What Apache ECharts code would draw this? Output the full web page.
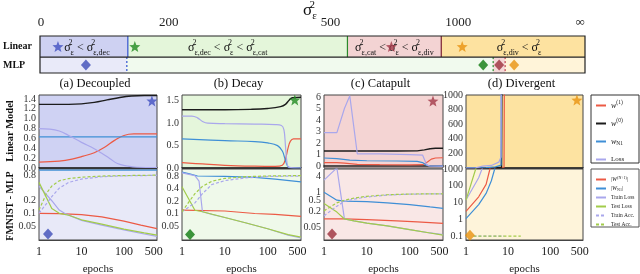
<!DOCTYPE html>
<html><head><meta charset="utf-8">
<script src="https://cdn.jsdelivr.net/npm/echarts@6/dist/echarts.min.js"></script>
<style>html,body{margin:0;padding:0;background:#fff}#c{width:640px;height:274px}</style>
</head><body><div id="c"></div>
<script>
// ---------------- DATA ----------------
// top bar: sigma^2 scale (bar position units)
const sigmaTickPos = [1, 129, 291, 419, 541];
const sigmaTickLabels = ['0', '200', '500', '1000', '∞'];
const barRows = ['Linear', 'MLP'];
const rowSpans = [[0, 0.57], [0.57, 1]];
const rowCenters = [0.285, 0.785];
const linearRegions = [[0, 88], [88, 308], [308, 402], [402, 546]];
const mlpRegions = [[0, 87], [87, 454], [454, 466], [466, 546]];
const linearDividers = [88, 308, 402];
const mlpDividers = [87, 454, 466];
const regionLabelPos = [47, 188, 355, 480];
const barStars = [18, 95, 352, 423];
const barDiamonds = [46, 444, 460, 475];

// epochs axis ticks
const epochTicks = [1, 10, 100, 500];

// panel y ticks
const aTopTicks = [0, 0.2, 0.4, 0.6, 0.8, 1.0, 1.2, 1.4];
const bTopTicks = [0, 0.5, 1.0, 1.5];
const cTopTicks = [0, 1, 2, 3, 4, 5, 6];
const dTopTicks = [200, 400, 600, 800, 1000];
const aBotTicks = [0.05, 0.1, 0.2, 0.5, 0.8];
const bBotTicks = [0.05, 0.1, 0.2, 0.4, 0.8];
const cBotTicks = [0.05, 0.2, 0.5, 1, 4];
const dBotTicks = [0.1, 1, 10, 100, 1000];

// (a) Decoupled
const aTopW1 = [[1,0.12],[3,0.14],[6,0.18],[11,0.24],[20,0.31],[35,0.42],[60,0.56],[100,0.66],[170,0.69],[600,0.69]];
const aTopW0 = [[1,1.29],[5,1.29],[10,1.30],[20,1.33],[40,1.38],[80,1.43],[150,1.46],[300,1.47],[600,1.47]];
const aTopWN1 = [[1,0.63],[600,0.63]];
const aTopLoss = [[1,0.80],[1.8,0.79],[3,0.75],[5,0.66],[10,0.52],[20,0.39],[30,0.30],[47,0.19],[70,0.09],[120,0.04],[200,0.015],[600,0.01]];
const aBotWout = [[1,0.1],[3,0.098],[10,0.093],[30,0.082],[100,0.065],[250,0.052],[600,0.043]];
const aBotWN1 = [[1,1.08],[600,1.08]];
const aBotTrainLoss = [[1,0.45],[2,0.2],[3,0.12],[4,0.1],[10,0.068],[30,0.052],[100,0.04],[300,0.032],[600,0.028]];
const aBotTestLoss = [[1,0.55],[2,0.13],[3,0.1],[5,0.09],[10,0.07],[30,0.055],[100,0.042],[300,0.034],[600,0.03]];
const aBotTrainAcc = [[1,0.1],[2,0.25],[3,0.4],[5,0.55],[10,0.66],[30,0.75],[100,0.79],[600,0.81]];
const aBotTestAcc = [[1,0.12],[1.5,0.3],[2,0.45],[3,0.6],[5,0.68],[10,0.73],[30,0.78],[100,0.8],[600,0.82]];

// (b) Decay
const bTopW1 = [[1,0.12],[3,0.09],[10,0.06],[50,0.04],[150,0.035],[220,0.06],[260,0.2],[300,0.45],[340,0.6],[400,0.65],[600,0.65]];
const bTopW0 = [[1,1.3],[10,1.3],[40,1.31],[100,1.33],[200,1.37],[260,1.42],[320,1.52],[380,1.57],[600,1.58]];
const bTopWN1 = [[1,0.65],[10,0.61],[50,0.59],[100,0.56],[170,0.5],[220,0.38],[250,0.22],[280,0.08],[320,0.01],[600,0]];
const bTopLoss = [[1,1.16],[1.7,1.16],[2.3,1.12],[3,1.04],[4,1.0],[10,0.99],[50,0.98],[150,0.97],[210,0.95],[240,0.85],[260,0.5],[280,0.15],[310,0.02],[600,0]];
const bBotWout = [[1,0.12],[10,0.115],[50,0.1],[150,0.095],[600,0.085]];
const bBotWN1 = [[1,1.0],[1.5,0.9],[2.3,0.8],[10,0.78],[50,0.74],[150,0.67],[600,0.58]];
const bBotTrainLoss = [[1,0.95],[2,0.82],[2.5,0.6],[3,0.11],[5,0.095],[10,0.08],[30,0.06],[100,0.043],[300,0.03],[600,0.026]];
const bBotTestLoss = [[1,0.44],[2,0.12],[3,0.11],[10,0.08],[30,0.06],[100,0.043],[300,0.031],[600,0.027]];
const bBotTrainAcc = [[1,0.11],[2,0.18],[3,0.3],[5,0.5],[10,0.62],[30,0.72],[100,0.78],[600,0.8]];
const bBotTestAcc = [[1,0.11],[1.5,0.2],[2,0.3],[3,0.45],[5,0.6],[10,0.7],[30,0.77],[100,0.8],[600,0.82]];

// (c) Catapult
const cTopW1 = [[1,0.3],[2,0.3],[3,0.25],[6,0.15],[20,0.12],[100,0.1],[200,0.12],[260,0.35],[320,0.6],[400,0.7],[600,0.72]];
const cTopW0 = [[1,1.3],[50,1.3],[150,1.32],[220,1.4],[300,1.5],[400,1.55],[600,1.55]];
const cTopWN1 = [[1,0.7],[2,0.65],[4,0.52],[10,0.46],[50,0.44],[150,0.4],[200,0.3],[240,0.1],[280,0.02],[600,0]];
const cTopLoss = [[1,2.9],[2,2.9],[3,5],[4,6.1],[6,1.05],[20,1.05],[100,1.0],[200,0.95],[250,0.1],[290,0.02],[600,0]];
const cBotWout = [[1,0.1],[3,0.1],[10,0.095],[50,0.085],[150,0.078],[600,0.068]];
const cBotWN1 = [[1,1.0],[2,0.5],[3,0.46],[10,0.44],[30,0.4],[100,0.34],[300,0.28],[600,0.25]];
const cBotTrainLoss = [[1,2.8],[2,8],[3,0.1],[5,0.085],[10,0.07],[30,0.055],[100,0.04],[300,0.03],[600,0.026]];
const cBotTestLoss = [[1,0.38],[2,0.18],[3,0.1],[5,0.085],[10,0.07],[30,0.055],[100,0.04],[300,0.03],[600,0.025]];
const cBotTrainAcc = [[1,0.13],[2,0.3],[3,0.45],[5,0.55],[10,0.66],[30,0.78],[100,0.84],[600,0.87]];
const cBotTestAcc = [[1,0.2],[2,0.4],[3,0.5],[5,0.6],[10,0.7],[30,0.8],[100,0.85],[600,0.87]];

// (d) Divergent
const dTopW1 = [[1,0.3],[5,2],[8,10],[8.4,3000]];
const dTopW0 = [[1,1.3],[5,3],[7,10],[7.3,3000]];
const dTopWN1 = [[1,1],[3,5],[5,15],[6.8,40],[7,3000]];
const dTopLoss = [[1,0],[1.7,2],[2.5,25],[4,35],[6,80],[6.8,150],[7,3000]];
const dBotWout = [[1,3],[2,22],[3,120],[3.7,1000],[4,5000]];
const dBotWN1 = [[1,1.1],[2,7.5],[3,35],[4,200],[4.8,1000],[5,3000]];
const dBotTrainLoss = [[1,14],[2,300],[2.4,1000],[3,8000]];
const dBotTestLoss = [[1,14],[1.7,1000],[2,8000]];
const dBotTrainAcc = [[1.5,0.1],[2,0.1],[3,0.1],[4,0.1],[5,0.1],[6,0.1],[8,0.1]];
const dBotTestAcc = [[1.5,0.1],[2,0.1],[3,0.1],[4,0.1],[5,0.1],[6,0.1],[8,0.1],[10,0.1],[12,0.1],[15,0.1],[20,0.1]];

// marker positions inside panels
const panelStars = [[455,1.36],[430,1.52],[350,5.65],[430,930]];
const panelDiamonds = [[1.63,0.032],[1.54,0.031],[1.54,0.0274],[1.24,0.11]];

const panelTitles = ['(a) Decoupled', '(b) Decay', '(c) Catapult', '(d) Divergent'];
const topNames = ['w1', 'w0', 'wN1', 'Loss'];
const botNames = ['W(N+1)', 'WN1', 'Train Loss', 'Test Loss', 'Train Acc.', 'Test Acc.'];

// ---------------- STYLE / LAYOUT ----------------
const SERIF = '"Liberation Serif","DejaVu Serif",serif';
const RED = '#ec5a45', BLACK = '#1c1c1c', BLUE = '#3f8fd6', LAV = '#a9a7ec', GREEN = '#a2cc4a';
const regionFills = ['#ced1f2', '#e4f6da', '#f3d3d3', '#fde2a0', '#e9eaf9', '#f1faee', '#f5d8d8', '#fff4d9'];
const dividerStyles = [
  {stroke:'#3050d0', lineWidth:1.2}, {stroke:'#2a8a2a', lineWidth:1.2}, {stroke:'#7a2030', lineWidth:1.2},
  {stroke:'#3050d0', lineWidth:1.2, lineDash:[2,2]}, {stroke:'#2a8a2a', lineWidth:1.2, lineDash:[2,2]}, {stroke:'#c04050', lineWidth:1.2, lineDash:[2,2]}
];
const markColors = ['#4150c0', '#1f8a1f', '#a33848', '#e8920f'];
const diamondColors = ['#3e4db8', '#0f7a0f', '#9c2f3c', '#e8920f'];
const topFills = ['#cfd2f3', '#e5f6db', '#f4d4d3', '#fde3a1'];
const botFills = ['#e8e9f8', '#eff9ea', '#f9e7e6', '#fef4da'];
const panelLayout = [{left:39,width:118},{left:182,width:119},{left:324,width:119},{left:466,width:117}];
const TOP_Y = 95, TOP_H = 73, BOT_Y = 169, BOT_H = 71;
const STAR = 'path://M12,1 L14.9,8.6 L23,9 L16.7,14.1 L18.9,22 L12,17.5 L5.1,22 L7.3,14.1 L1,9 L9.1,8.6 Z';

const topRanges = [[0,1.48],[0,1.63],[-0.17,6.17],[0,1000]];
const botRanges = [[0.023,1.15],[0.023,1.18],[0.0164,7.3],[0.058,1000]];
const topTicks = [aTopTicks, bTopTicks, cTopTicks, dTopTicks];
const botTicks = [aBotTicks, bBotTicks, cBotTicks, dBotTicks];
const topFmt = [v=>v.toFixed(1), v=>v.toFixed(1), v=>String(v), v=>String(v)];
const topSmooth = [0.4, 0.4, 0, 0];
const topData = [
  [aTopW1, aTopW0, aTopWN1, aTopLoss],
  [bTopW1, bTopW0, bTopWN1, bTopLoss],
  [cTopW1, cTopW0, cTopWN1, cTopLoss],
  [dTopW1, dTopW0, dTopWN1, dTopLoss]
];
const botData = [
  [aBotWout, aBotWN1, aBotTrainLoss, aBotTestLoss, aBotTrainAcc, aBotTestAcc],
  [bBotWout, bBotWN1, bBotTrainLoss, bBotTestLoss, bBotTrainAcc, bBotTestAcc],
  [cBotWout, cBotWN1, cBotTrainLoss, cBotTestLoss, cBotTrainAcc, cBotTestAcc],
  [dBotWout, dBotWN1, dBotTrainLoss, dBotTestLoss, dBotTrainAcc, dBotTestAcc]
];
const topColors = [RED, BLACK, BLUE, LAV];
const botColors = [RED, BLUE, LAV, GREEN, LAV, GREEN];
const botDashed = [false, false, false, false, true, true];

function sig(sub){ return '{s|σ}{p|2}{b|' + sub + '}'; }
const LT = '{s| < }';
const regionLabelTexts = [
  sig('ε') + LT + sig('ε,dec'),
  sig('ε,dec') + LT + sig('ε') + LT + sig('ε,cat'),
  sig('ε,cat') + LT + sig('ε') + LT + sig('ε,div'),
  sig('ε,div') + LT + sig('ε')
];
const barRich = {
  s: {fontFamily:SERIF, fontSize:12, fill:'#111', color:'#111', lineHeight:18},
  p: {fontFamily:SERIF, fontSize:8, fill:'#111', color:'#111', width:0, lineHeight:9, verticalAlign:'top'},
  b: {fontFamily:SERIF, fontSize:8, fill:'#111', color:'#111', lineHeight:9, verticalAlign:'bottom'}
};

// ---------------- BUILD ----------------
const grids = [{left:39, top:36, width:546, height:37}];
const xAxes = [{gridIndex:0, type:'value', min:0, max:546, position:'top',
  axisLine:{show:false}, axisTick:{show:false}, splitLine:{show:false},
  axisLabel:{customValues:sigmaTickPos, formatter:v=>sigmaTickLabels[sigmaTickPos.indexOf(v)], fontFamily:SERIF, fontSize:13, color:'#222', margin:7,
    showMinLabel:true, showMaxLabel:true, hideOverlap:false}}];
const yAxes = [{gridIndex:0, type:'value', min:0, max:1, inverse:true,
  axisLine:{show:false}, axisTick:{show:false}, splitLine:{show:false},
  axisLabel:{customValues:rowCenters, formatter:v=>{let bi=0;rowCenters.forEach((c,i)=>{if(Math.abs(c-v)<Math.abs(rowCenters[bi]-v))bi=i;});return barRows[bi];},
    align:'left', margin:37, fontFamily:SERIF, fontWeight:'bold', fontSize:10, color:'#111'}}];
const series = [];

// bar regions
const regionItems = [];
linearRegions.forEach((r,i)=>regionItems.push([r[0], r[1], rowSpans[0][0], rowSpans[0][1], i]));
mlpRegions.forEach((r,i)=>regionItems.push([r[0], r[1], rowSpans[1][0], rowSpans[1][1], 4+i]));
series.push({type:'custom', xAxisIndex:0, yAxisIndex:0, data:regionItems, z:1, silent:true,
  renderItem(params, api){
    const p0 = api.coord([api.value(0), api.value(2)]);
    const p1 = api.coord([api.value(1), api.value(3)]);
    return {type:'rect', shape:{x:p0[0], y:p0[1], width:p1[0]-p0[0], height:p1[1]-p0[1]}, style:{fill:regionFills[api.value(4)]}};
  }});
// dividers
const dividerItems = [];
linearDividers.forEach((x,i)=>dividerItems.push([x, rowSpans[0][0], rowSpans[0][1], i]));
mlpDividers.forEach((x,i)=>dividerItems.push([x, rowSpans[1][0], rowSpans[1][1], 3+i]));
series.push({type:'custom', xAxisIndex:0, yAxisIndex:0, data:dividerItems, z:2, silent:true,
  renderItem(params, api){
    const p0 = api.coord([api.value(0), api.value(1)]);
    const p1 = api.coord([api.value(0), api.value(2)]);
    return {type:'line', shape:{x1:p0[0], y1:p0[1], x2:p1[0], y2:p1[1]}, style:dividerStyles[api.value(3)]};
  }});
// outline + row separator
series.push({type:'custom', xAxisIndex:0, yAxisIndex:0, data:[[0, 546, 0, 1, rowSpans[0][1]]], z:3, silent:true,
  renderItem(params, api){
    const p0 = api.coord([api.value(0), api.value(2)]);
    const p1 = api.coord([api.value(1), api.value(3)]);
    const pm = api.coord([api.value(0), api.value(4)]);
    return {type:'group', children:[
      {type:'rect', shape:{x:p0[0], y:p0[1], width:p1[0]-p0[0], height:p1[1]-p0[1]}, style:{fill:null, stroke:'#222', lineWidth:1.2}},
      {type:'line', shape:{x1:p0[0], y1:pm[1], x2:p1[0], y2:pm[1]}, style:{stroke:'#222', lineWidth:1.2}}
    ]};
  }});
// region labels
series.push({type:'custom', xAxisIndex:0, yAxisIndex:0, z:4, silent:true,
  data: regionLabelPos.map((x,i)=>[x, rowCenters[0], i]),
  renderItem(params, api){
    const p = api.coord([api.value(0), api.value(1)]);
    return {type:'text', x:p[0], y:p[1]+1, style:{text:regionLabelTexts[api.value(2)], rich:barRich,
      align:'center', verticalAlign:'middle', textAlign:'center', textVerticalAlign:'middle'}};
  }});
// bar stars and diamonds
series.push({type:'scatter', xAxisIndex:0, yAxisIndex:0, z:5, symbol:STAR, symbolSize:11, silent:true,
  data: barStars.map((x,i)=>({value:[x, rowCenters[0]], itemStyle:{color:markColors[i]}}))});
series.push({type:'scatter', xAxisIndex:0, yAxisIndex:0, z:5, symbol:'diamond', symbolSize:[10,11], silent:true,
  data: barDiamonds.map((x,i)=>({value:[x, rowCenters[1]], itemStyle:{color:diamondColors[i]}}))});

const graphic = [];
graphic.push({type:'text', x:310, y:11, style:{text:'{S|σ}{P|2}{B|ε}', align:'center', verticalAlign:'middle', textAlign:'center', textVerticalAlign:'middle',
  rich:{S:{fontFamily:SERIF, fontSize:17, fill:'#111', color:'#111', lineHeight:22}, P:{fontFamily:SERIF, fontSize:11, width:0, fill:'#111', color:'#111', lineHeight:11, verticalAlign:'top'}, B:{fontFamily:SERIF, fontSize:11, fill:'#111', color:'#111', lineHeight:11, verticalAlign:'bottom'}}}});

const labelCommon = {fontFamily:SERIF, fontSize:10, color:'#333', margin:3, showMinLabel:true, showMaxLabel:true, hideOverlap:false};

panelLayout.forEach((pl, c)=>{
  const gt = grids.length, gb = gt + 1;
  grids.push({show:true, left:pl.left, top:TOP_Y, width:pl.width, height:TOP_H, backgroundColor:topFills[c], borderColor:'#444', borderWidth:1});
  grids.push({show:true, left:pl.left, top:BOT_Y, width:pl.width, height:BOT_H, backgroundColor:botFills[c], borderColor:'#444', borderWidth:1});
  xAxes.push({gridIndex:gt, type:'log', min:1, max:600, axisLabel:{show:false}, axisTick:{show:false}, splitLine:{show:false},
    axisLine:{show:true, lineStyle:{color:'#222', width:1.6}}});
  xAxes.push({gridIndex:gb, type:'log', min:1, max:600, splitLine:{show:false}, axisTick:{show:false},
    axisLine:{show:true, lineStyle:{color:'#444'}},
    axisLabel:{customValues:epochTicks, formatter:v=>String(Math.round(v)), fontFamily:SERIF, fontSize:12, color:'#222', margin:6,
      showMinLabel:true, showMaxLabel:true, hideOverlap:false}});
  yAxes.push({gridIndex:gt, type:'value', min:topRanges[c][0], max:topRanges[c][1], splitLine:{show:false}, axisTick:{show:false}, axisLine:{show:false},
    axisLabel:Object.assign({customValues:topTicks[c], formatter:topFmt[c]}, labelCommon)});
  yAxes.push({gridIndex:gb, type:'log', min:botRanges[c][0], max:botRanges[c][1], splitLine:{show:false}, axisTick:{show:false}, axisLine:{show:false},
    axisLabel:Object.assign({customValues:botTicks[c], formatter:v=>String(v)}, labelCommon)});
  topData[c].forEach((d, k)=>{
    series.push({type:'line', name:topNames[k], xAxisIndex:gt, yAxisIndex:gt, data:d, showSymbol:false, symbol:'none',
      smooth:topSmooth[c], clip:true, z:10, color:topColors[k],
      lineStyle:{color:topColors[k], width:k===1?1.4:1.2}});
  });
  botData[c].forEach((d, k)=>{
    series.push({type:'line', name:botNames[k], xAxisIndex:gb, yAxisIndex:gb, data:d, showSymbol:false, symbol:'none',
      clip:true, z:10, color:botColors[k],
      lineStyle:{color:botColors[k], width:1.2, type:botDashed[k]?[3,2]:'solid'}});
  });
  series.push({type:'scatter', xAxisIndex:gt, yAxisIndex:gt, symbol:STAR, symbolSize:11, z:20, silent:true,
    data:[panelStars[c]], itemStyle:{color:markColors[c]}});
  series.push({type:'scatter', xAxisIndex:gb, yAxisIndex:gb, symbol:'diamond', symbolSize:[10,11], z:20, silent:true,
    data:[panelDiamonds[c]], itemStyle:{color:diamondColors[c]}});
  const cx = pl.left + pl.width/2;
  graphic.push({type:'text', x:cx - 3, y:84, style:{text:panelTitles[c], font:'12.5px ' + SERIF, fill:'#111', align:'center', verticalAlign:'middle', textAlign:'center', textVerticalAlign:'middle'}});
  graphic.push({type:'text', x:cx, y:269, style:{text:'epochs', font:'11px ' + SERIF, fill:'#222', align:'center', verticalAlign:'middle', textAlign:'center', textVerticalAlign:'middle'}});
});

graphic.push({type:'text', x:10, y:131, rotation:Math.PI/2, style:{text:'Linear Model', font:'bold 10.5px ' + SERIF, fill:'#111', align:'center', verticalAlign:'middle', textAlign:'center', textVerticalAlign:'middle'}});
graphic.push({type:'text', x:10, y:206, rotation:Math.PI/2, style:{text:'FMNIST - MLP', font:'bold 10px ' + SERIF, fill:'#111', align:'center', verticalAlign:'middle', textAlign:'center', textVerticalAlign:'middle'}});
graphic.push({type:'rect', shape:{x:591, y:95, width:48, height:68}, style:{fill:'#fff', stroke:'#333', lineWidth:1}, z:-1});
graphic.push({type:'rect', shape:{x:591, y:169, width:48, height:58}, style:{fill:'#fff', stroke:'#555', lineWidth:1}, z:-1});

const legendFmt1 = {'w1':'{i|w}{u|(1)}', 'w0':'{i|w}{u|(0)}', 'wN1':'{i|w}{d|N1}', 'Loss':'{r|Loss}'};
const legendFmt2 = {'W(N+1)':'{r||}{i|W}{u|(N+1)}{r||}', 'WN1':'{r||}{i|W}{d|N1}{r||}', 'Train Loss':'{r|Train Loss}', 'Test Loss':'{r|Test Loss}', 'Train Acc.':'{r|Train Acc.}', 'Test Acc.':'{r|Test Acc.}'};

const option = {
  animation:false,
  backgroundColor:'#fff',
  grid:grids, xAxis:xAxes, yAxis:yAxes, series:series, graphic:graphic,
  legend:[
    {data:topNames, orient:'vertical', left:595, top:100, itemWidth:10, itemHeight:6, itemGap:7, padding:0,
      formatter:n=>legendFmt1[n], selectedMode:false, itemStyle:{opacity:0, borderWidth:0},
      textStyle:{fontFamily:SERIF, fontSize:8, color:'#222', lineHeight:11,
        rich:{i:{fontFamily:SERIF, fontStyle:'italic', fontSize:8, color:'#222', lineHeight:11},
              u:{fontFamily:SERIF, fontSize:5.5, color:'#222', lineHeight:6, verticalAlign:'top'},
              d:{fontFamily:SERIF, fontSize:5.5, color:'#222', lineHeight:6, verticalAlign:'bottom'},
              r:{fontFamily:SERIF, fontSize:7, color:'#222', lineHeight:11}}}},
    {data:botNames, orient:'vertical', left:595, top:176, itemWidth:10, itemHeight:4, itemGap:2, padding:0,
      formatter:n=>legendFmt2[n], selectedMode:false, itemStyle:{opacity:0, borderWidth:0},
      textStyle:{fontFamily:SERIF, fontSize:5.5, color:'#222', lineHeight:6,
        rich:{i:{fontFamily:SERIF, fontStyle:'italic', fontSize:6, color:'#222', lineHeight:7},
              u:{fontFamily:SERIF, fontSize:4, color:'#222', lineHeight:4, verticalAlign:'top'},
              d:{fontFamily:SERIF, fontSize:4, color:'#222', lineHeight:4, verticalAlign:'bottom'},
              r:{fontFamily:SERIF, fontSize:5.5, color:'#222', lineHeight:7}}}}
  ]
};
const chart = echarts.init(document.getElementById('c'), null, {renderer:'canvas'});
chart.setOption(option);
</script></body></html>
